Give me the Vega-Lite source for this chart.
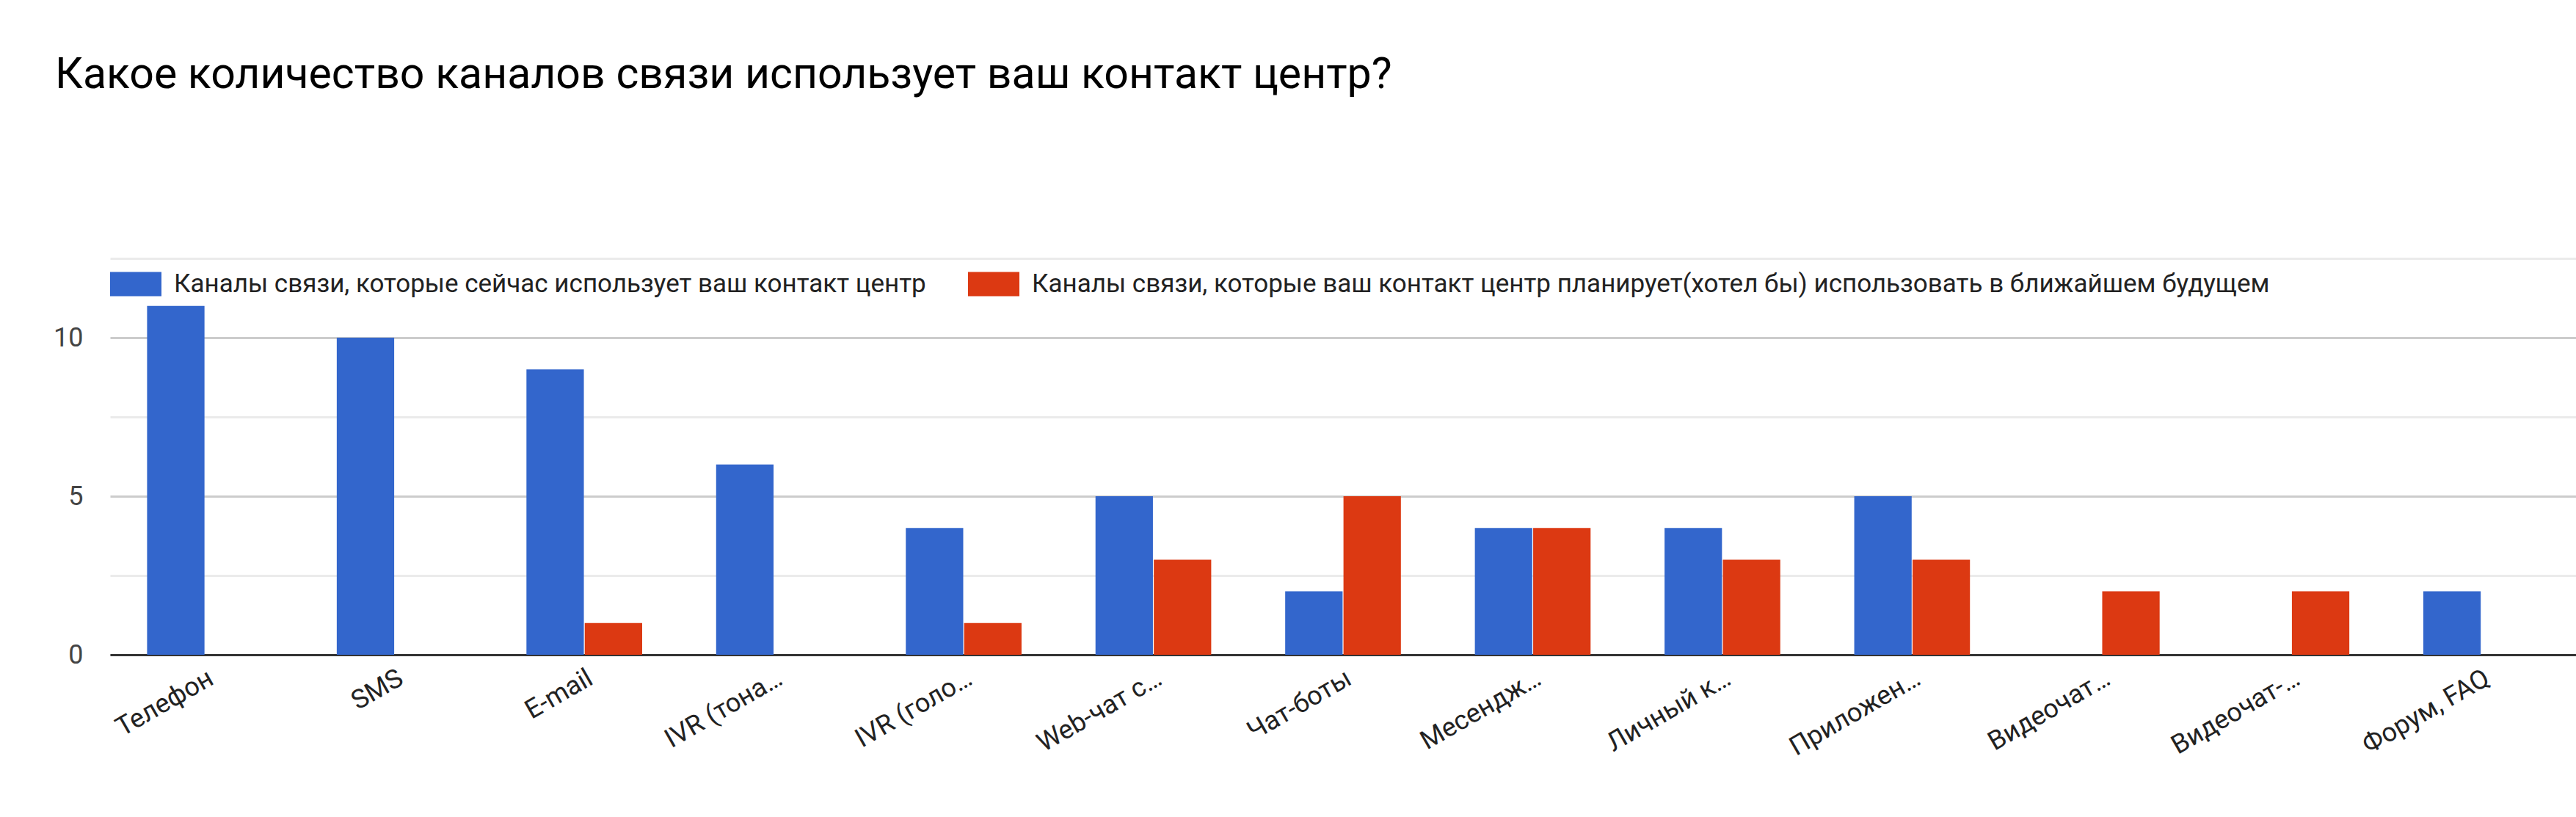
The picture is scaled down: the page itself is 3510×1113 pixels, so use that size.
{
  "$schema": "https://vega.github.io/schema/vega-lite/v6.json",
  "width": 3360,
  "height": 540,
  "autosize": {"type": "none"},
  "padding": {"left": 150, "top": 352, "right": 0, "bottom": 221},
  "background": "white",
  "title": {
    "text": "Какое количество каналов связи использует ваш контакт центр?",
    "anchor": "start",
    "frame": "group",
    "dx": -75,
    "offset": 220,
    "fontSize": 59,
    "font": "Roboto",
    "fontWeight": "normal",
    "color": "#000000"
  },
  "data": {
    "values": [
      {"channel": "Телефон", "series": "Каналы связи, которые сейчас использует ваш контакт центр", "count": 11},
      {"channel": "Телефон", "series": "Каналы связи, которые ваш контакт центр планирует(хотел бы) использовать в ближайшем будущем", "count": 0},
      {"channel": "SMS", "series": "Каналы связи, которые сейчас использует ваш контакт центр", "count": 10},
      {"channel": "SMS", "series": "Каналы связи, которые ваш контакт центр планирует(хотел бы) использовать в ближайшем будущем", "count": 0},
      {"channel": "E-mail", "series": "Каналы связи, которые сейчас использует ваш контакт центр", "count": 9},
      {"channel": "E-mail", "series": "Каналы связи, которые ваш контакт центр планирует(хотел бы) использовать в ближайшем будущем", "count": 1},
      {"channel": "IVR (тона…", "series": "Каналы связи, которые сейчас использует ваш контакт центр", "count": 6},
      {"channel": "IVR (тона…", "series": "Каналы связи, которые ваш контакт центр планирует(хотел бы) использовать в ближайшем будущем", "count": 0},
      {"channel": "IVR (голо…", "series": "Каналы связи, которые сейчас использует ваш контакт центр", "count": 4},
      {"channel": "IVR (голо…", "series": "Каналы связи, которые ваш контакт центр планирует(хотел бы) использовать в ближайшем будущем", "count": 1},
      {"channel": "Web-чат с…", "series": "Каналы связи, которые сейчас использует ваш контакт центр", "count": 5},
      {"channel": "Web-чат с…", "series": "Каналы связи, которые ваш контакт центр планирует(хотел бы) использовать в ближайшем будущем", "count": 3},
      {"channel": "Чат-боты", "series": "Каналы связи, которые сейчас использует ваш контакт центр", "count": 2},
      {"channel": "Чат-боты", "series": "Каналы связи, которые ваш контакт центр планирует(хотел бы) использовать в ближайшем будущем", "count": 5},
      {"channel": "Месендж…", "series": "Каналы связи, которые сейчас использует ваш контакт центр", "count": 4},
      {"channel": "Месендж…", "series": "Каналы связи, которые ваш контакт центр планирует(хотел бы) использовать в ближайшем будущем", "count": 4},
      {"channel": "Личный к…", "series": "Каналы связи, которые сейчас использует ваш контакт центр", "count": 4},
      {"channel": "Личный к…", "series": "Каналы связи, которые ваш контакт центр планирует(хотел бы) использовать в ближайшем будущем", "count": 3},
      {"channel": "Приложен…", "series": "Каналы связи, которые сейчас использует ваш контакт центр", "count": 5},
      {"channel": "Приложен…", "series": "Каналы связи, которые ваш контакт центр планирует(хотел бы) использовать в ближайшем будущем", "count": 3},
      {"channel": "Видеочат…", "series": "Каналы связи, которые сейчас использует ваш контакт центр", "count": 0},
      {"channel": "Видеочат…", "series": "Каналы связи, которые ваш контакт центр планирует(хотел бы) использовать в ближайшем будущем", "count": 2},
      {"channel": "Видеочат-…", "series": "Каналы связи, которые сейчас использует ваш контакт центр", "count": 0},
      {"channel": "Видеочат-…", "series": "Каналы связи, которые ваш контакт центр планирует(хотел бы) использовать в ближайшем будущем", "count": 2},
      {"channel": "Форум, FAQ", "series": "Каналы связи, которые сейчас использует ваш контакт центр", "count": 2},
      {"channel": "Форум, FAQ", "series": "Каналы связи, которые ваш контакт центр планирует(хотел бы) использовать в ближайшем будущем", "count": 0}
    ]
  },
  "mark": {"type": "bar"},
  "encoding": {
    "x": {
      "field": "channel",
      "type": "nominal",
      "sort": null,
      "scale": {"paddingInner": 0.39, "paddingOuter": 0.195},
      "axis": {
        "title": null,
        "labelAngle": -30,
        "labelAlign": "right",
        "labelBaseline": "top",
        "labelFont": "Roboto",
        "labelFontSize": 36,
        "labelColor": "#222222",
        "labelPadding": 14,
        "labelLimit": 0,
        "ticks": false,
        "grid": false,
        "domainColor": "#333333",
        "domainWidth": 3
      }
    },
    "xOffset": {
      "field": "series",
      "type": "nominal",
      "scale": {
        "domain": [
          "Каналы связи, которые сейчас использует ваш контакт центр",
          "Каналы связи, которые ваш контакт центр планирует(хотел бы) использовать в ближайшем будущем"
        ],
        "paddingInner": 0.015
      }
    },
    "y": {
      "field": "count",
      "type": "quantitative",
      "scale": {"domain": [0, 12.5], "nice": false},
      "axis": {
        "title": null,
        "values": [0, 2.5, 5, 7.5, 10, 12.5],
        "labelExpr": "datum.value % 5 === 0 ? datum.label : ''",
        "labelFont": "Roboto",
        "labelFontSize": 36,
        "labelColor": "#444444",
        "labelPadding": 37,
        "domain": false,
        "ticks": false,
        "grid": true,
        "gridWidth": 3,
        "gridColor": {"condition": {"test": "datum.value % 5 === 0", "value": "#cccccc"}, "value": "#ebebeb"}
      }
    },
    "color": {
      "field": "series",
      "type": "nominal",
      "scale": {
        "domain": [
          "Каналы связи, которые сейчас использует ваш контакт центр",
          "Каналы связи, которые ваш контакт центр планирует(хотел бы) использовать в ближайшем будущем"
        ],
        "range": ["#3366cc", "#dc3912"]
      },
      "legend": {
        "title": null,
        "orient": "none",
        "legendX": 0,
        "legendY": 0,
        "direction": "horizontal",
        "padding": 0,
        "labelFont": "Roboto",
        "labelFontSize": 35,
        "labelColor": "#222222",
        "labelLimit": 0,
        "labelOffset": 17,
        "columnPadding": 57,
        "symbolType": "M-1,-0.4714H1V0.4714H-1Z",
        "symbolSize": 4900,
        "symbolStrokeWidth": 0,
        "symbolOpacity": 1
      }
    }
  },
  "config": {"view": {"stroke": null}}
}
